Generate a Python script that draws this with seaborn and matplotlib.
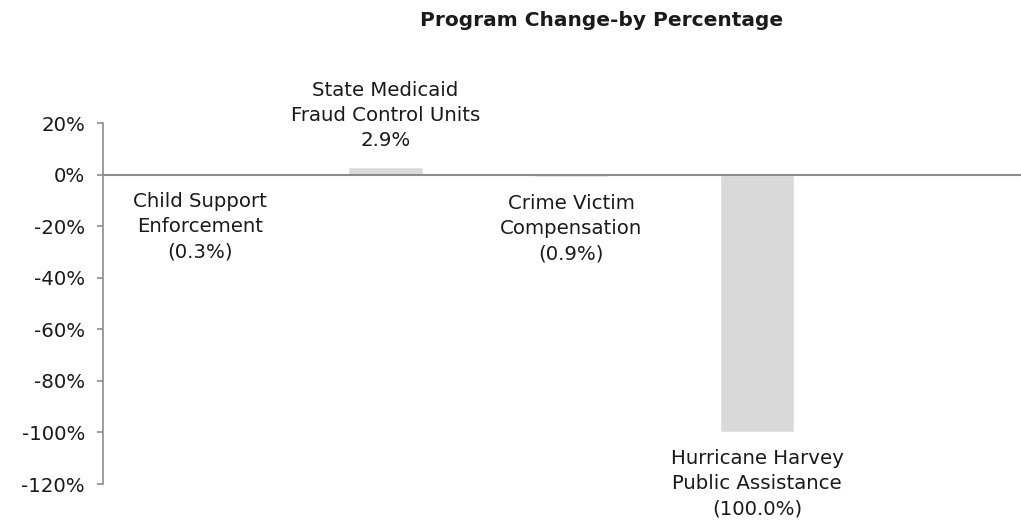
import matplotlib
matplotlib.use("Agg")
import matplotlib.pyplot as plt
import seaborn as sns
import pandas as pd

# Data
programs = ["Child Support\nEnforcement",
            "State Medicaid\nFraud Control Units",
            "Crime Victim\nCompensation",
            "Hurricane Harvey\nPublic Assistance"]
pct_change = [-0.3, 2.9, -0.9, -100.0]
y_ticks = [20, 0, -20, -40, -60, -80, -100, -120]

df = pd.DataFrame({"Program": programs, "Change": pct_change})

sns.set_style("white")
plt.rcParams["font.family"] = ["DejaVu Sans"]

fig = plt.figure(figsize=(10.21, 5.24), dpi=100)
ax = fig.add_axes([103 / 1021, 40 / 524, 918 / 1021, 361 / 524])

sns.barplot(data=df, x="Program", y="Change", color="#d9d9d9",
            saturation=1, width=0.4, ax=ax)

# labels on each bar
for i, (name, val) in enumerate(zip(programs, pct_change)):
    if val >= 0:
        txt = f"{name}\n{val:.1f}%"
        ax.annotate(txt, (i, val), xytext=(0, 12), textcoords="offset points",
                    ha="center", va="bottom", fontsize=14.2, linespacing=1.42,
                    color="#1a1a1a")
    else:
        txt = f"{name}\n({abs(val):.1f}%)"
        ax.annotate(txt, (i, val), xytext=(0, -12), textcoords="offset points",
                    ha="center", va="top", fontsize=14.2, linespacing=1.42,
                    color="#1a1a1a")

ax.set_ylim(-120, 20)
ax.set_xlim(-0.52, 4.42)
ax.set_yticks(y_ticks)
ax.set_yticklabels([f"{t}%" for t in y_ticks], fontsize=14.2, color="#1a1a1a")
ax.tick_params(axis="y", left=True, length=4, width=1.2, color="#8c8c8c", pad=9)
ax.set_xticks([])
ax.set_xlabel("")
ax.set_ylabel("")

for s in ["top", "right", "bottom"]:
    ax.spines[s].set_visible(False)
ax.spines["left"].set_color("#8c8c8c")
ax.spines["left"].set_linewidth(1.2)
ax.axhline(0, color="#8c8c8c", lw=1.5, zorder=3)
ax.set_facecolor("white")

fig.text(602 / 1021, 1 - 20 / 524, "Program Change-by Percentage",
         ha="center", va="center", fontsize=14.5, fontweight="bold", color="#1a1a1a")

fig.savefig("out.png", dpi=100, facecolor="white")
